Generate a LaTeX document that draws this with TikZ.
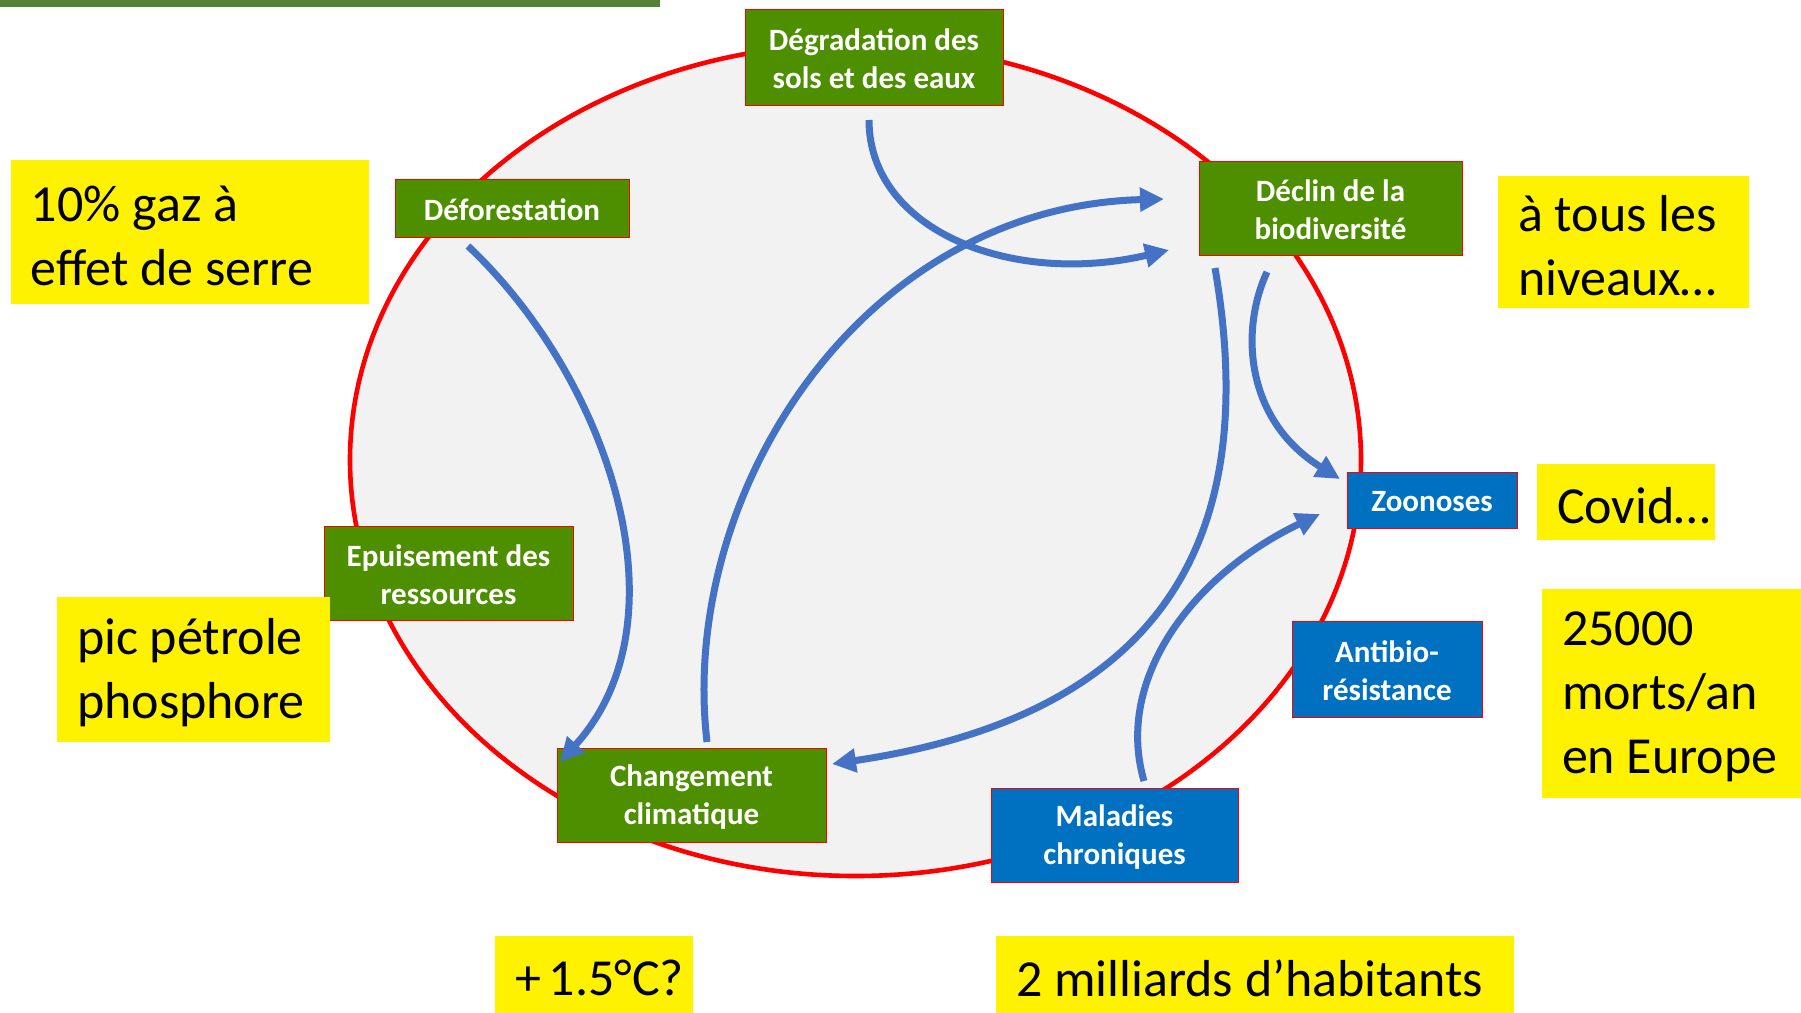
\documentclass[tikz,border=0pt]{standalone}
\usepackage{fontspec}
\setmainfont{Carlito}
\usetikzlibrary{arrows.meta}
\definecolor{boxgreen}{RGB}{78,143,0}
\definecolor{boxblue}{RGB}{0,112,192}
\definecolor{arrowblue}{RGB}{68,114,196}
\definecolor{bargreen}{RGB}{84,130,53}
\definecolor{cyclegray}{RGB}{242,242,242}
\hyphenpenalty=10000
\exhyphenpenalty=10000

\begin{document}
\begin{tikzpicture}[x=.5pt, y=-.5pt,
		cause/.style={yshift=-1pt, preaction={draw=red, line width=.5pt, fill=#1, transform canvas={yshift=1pt}},
			text=white, align=center, inner sep=0pt, font=\bfseries\fontsize{15.5}{19}\selectfont},
		cause/.default=boxgreen,
		health/.style={cause=boxblue},
		note/.style={yshift=-1.75pt, preaction={fill=yellow, transform canvas={yshift=1.75pt}},
			align=flush left, inner xsep=10pt, inner ysep=0pt, font=\fontsize{26}{32}\selectfont},
		flow/.style={draw=arrowblue, line width=3.5pt, -{Triangle[length=12pt, width=11.5pt]}}]
		\useasboundingbox (0, 0) rectangle (1801, 1013);
		\fill[bargreen] (0, 0) rectangle (660, 6.5);
		\draw[red, line width=2.3pt, fill=cyclegray] (855.5, 460) ellipse [x radius=252.75pt, y radius=208pt];

		\node[cause, minimum width=129pt, minimum height=48pt] (degr) at (874, 57) {Dégradation des\\sols et des eaux};
		\node[cause, minimum width=117pt, minimum height=29pt] (defo) at (512, 208) {Déforestation};
		\node[cause, minimum width=131.5pt, minimum height=47pt] (declin) at (1330.5, 208) {Déclin de la\\biodiversité};
		\node[cause, minimum width=124.5pt, minimum height=47pt] (epuis) at (448.5, 573) {Epuisement des\\ressources};
		\node[cause, minimum width=134.5pt, minimum height=47pt] (clim) at (691.5, 795) {Changement\\climatique};
		\node[health, minimum width=85pt, minimum height=28pt] (zoo) at (1432, 500) {Zoonoses};
		\node[health, minimum width=95pt, minimum height=48pt] (antibio) at (1387, 669) {Antibio-\\résistance};
		\node[health, minimum width=123.5pt, minimum height=47pt] (mal) at (1114.5, 835) {Maladies\\chroniques};

		\coordinate (degr-out) at (869, 120);
		\coordinate (declin-in1) at (1169, 250);
		\coordinate (clim-out) at (707, 742);
		\coordinate (declin-in2) at (1164, 199);
		\coordinate (defo-out) at (468, 246);
		\coordinate (clim-in1) at (560, 762);
		\coordinate (declin-out1) at (1215, 268);
		\coordinate (clim-in2) at (832, 764);
		\coordinate (declin-out2) at (1267, 272);
		\coordinate (zoo-in1) at (1340, 479);
		\coordinate (mal-out) at (1144, 781);
		\coordinate (zoo-in2) at (1320, 514);

		\draw[flow] (degr-out) .. controls (869, 230) and (1011, 287) .. (declin-in1);
		\draw[flow] (clim-out) .. controls (678, 494) and (861, 207) .. (declin-in2);
		\draw[flow] (defo-out) .. controls (609, 379) and (689, 620) .. (clim-in1);
		\draw[flow] (declin-out1) .. controls (1258, 517) and (1183, 712) .. (clim-in2);
		\draw[flow] (declin-out2) .. controls (1240, 330) and (1245, 420) .. (zoo-in1);
		\draw[flow] (mal-out) .. controls (1114, 678) and (1194, 574) .. (zoo-in2);

		\node[note, text width=159pt, minimum height=72pt] (gaz) at (190, 232) {10\% gaz à\\effet~de~serre};
		\node[note, text width=116.5pt, minimum height=72.5pt] (petrole) at (193.5, 669.5) {pic~pétrole\\phosphore};
		\node[note, text width=79pt, minimum height=38.5pt] (degres) at (594, 974.5) {+~1.5°C?};
		\node[note, text width=239pt, minimum height=38.5pt] (habitants) at (1255, 974.5) {2~milliards~d’habitants};
		\node[note, text width=105.5pt, minimum height=66pt] (niveaux) at (1623.5, 242) {à~tous~les\\niveaux…};
		\node[note, text width=69pt, minimum height=38pt] (covid) at (1626, 502) {Covid…};
		\node[note, text width=109.5pt, minimum height=104.5pt] (morts) at (1671.5, 693.5) {25000\\morts/an\\en~Europe};
	\end{tikzpicture}
\end{document}
